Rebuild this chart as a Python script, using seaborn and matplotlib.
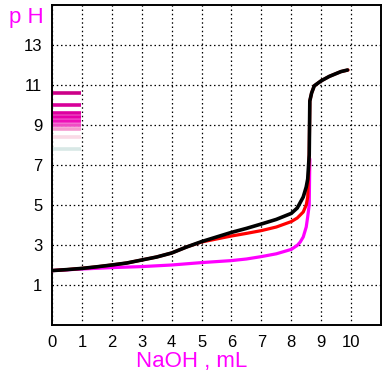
import numpy as np
import pandas as pd
import matplotlib
matplotlib.use("Agg")
import matplotlib.pyplot as plt
import seaborn as sns

# titration curves
naoh_black = [0, 0.5, 1, 1.5, 2, 2.5, 3, 3.5, 4, 4.5, 5, 5.5, 6, 6.5, 7, 7.5, 8, 8.2, 8.4,
              8.5, 8.55, 8.6, 8.62, 8.68, 8.77, 8.99, 9.27, 9.66, 9.88]
ph_black = [1.72, 1.77, 1.83, 1.91, 2.0, 2.1, 2.25, 2.4, 2.6, 2.9, 3.17, 3.4, 3.63, 3.83, 4.05,
            4.28, 4.58, 4.85, 5.4, 5.9, 6.3, 7.5, 10.2, 10.6, 10.96, 11.2, 11.43, 11.67, 11.75]

naoh_red = [0, 0.5, 1, 1.5, 2, 2.5, 3, 3.5, 4, 4.5, 5, 5.5, 6, 6.5, 7, 7.5, 8, 8.2, 8.4,
            8.5, 8.55, 8.6, 8.62, 8.68, 8.77, 8.99, 9.27, 9.66, 9.9]
ph_red = [1.72, 1.77, 1.83, 1.91, 2.0, 2.1, 2.25, 2.4, 2.6, 2.9, 3.15, 3.3, 3.45, 3.58, 3.72,
          3.9, 4.17, 4.35, 4.65, 5.0, 5.4, 7.6, 10.2, 10.6, 10.96, 11.2, 11.43, 11.67, 11.75]

naoh_mag = [0, 1, 2, 3, 4, 5, 6, 6.5, 7, 7.5, 8, 8.2, 8.3, 8.4, 8.5, 8.55, 8.6, 8.62]
ph_mag = [1.72, 1.8, 1.87, 1.92, 2.0, 2.12, 2.22, 2.3, 2.42, 2.56, 2.78, 2.98, 3.15, 3.4,
          3.9, 4.42, 5.0, 7.3]

# indicator colour scale on the left
scale_ph = [10.6, 10.0, 9.6, 9.4, 9.2, 9.0, 8.8, 8.4, 7.8]
scale_colors = ["#CC0088", "#D8009A", "#DE00A0", "#E600AA", "#EE10B8", "#F04CC4",
                "#F59ACF", "#FADAE6", "#D8E8E6"]

x_ticks = list(range(0, 11))
y_ticks = [1, 3, 5, 7, 9, 11, 13]

sns.set_style("white")
plt.rcParams['font.family'] = ['Liberation Sans', 'DejaVu Sans']

fig = plt.figure(figsize=(3.9, 3.8), dpi=100)
ax = fig.add_axes([52/390, 55/380, 329/390, 320/380])

for xs, ys, col, lw in [(naoh_mag, ph_mag, "#FF00FF", 2.3),
                        (naoh_red, ph_red, "#FF0000", 2.3),
                        (naoh_black, ph_black, "black", 2.6)]:
    d = pd.DataFrame({"x": xs, "y": ys})
    sns.lineplot(data=d, x="x", y="y", ax=ax, sort=False, estimator=None,
                 color=col, linewidth=lw, zorder=3)

ax.hlines(scale_ph, 0, 0.97, colors=scale_colors, linewidth=2.6, zorder=2)

ax.set_xlim(0, 11)
ax.set_ylim(-1, 15)
ax.set_xticks(x_ticks)
ax.set_yticks(y_ticks)
ax.tick_params(length=0, pad=7, labelsize=12, colors="black")
ax.grid(True, color="black", linestyle=(0, (1.2, 2.2)), linewidth=0.9)
for s in ax.spines.values():
    s.set_color("black")
    s.set_linewidth(1.4)
ax.set_xlabel("")
ax.set_ylabel("")

fig.text(26/390, 1 - 18/380, "p H", color="#FF00FF", fontsize=16, ha="center", va="center")
fig.text(192/390, 1 - 362/380, "NaOH , mL", color="#FF00FF", fontsize=16, ha="center", va="center")

fig.savefig("out.png", dpi=100)
